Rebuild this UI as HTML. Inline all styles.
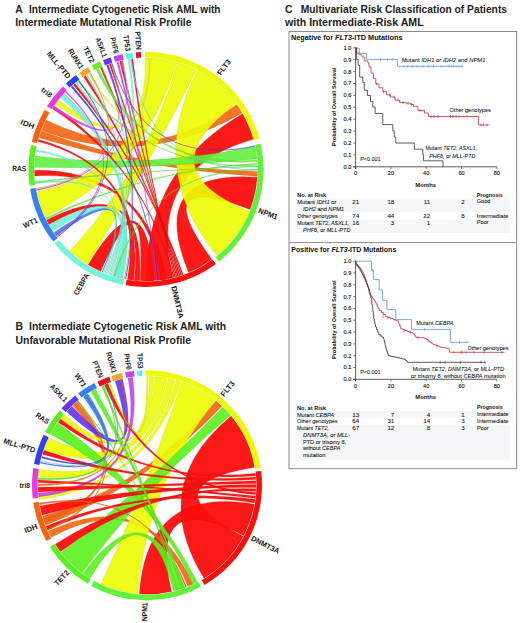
<!DOCTYPE html>
<html><head><meta charset="utf-8">
<style>
html,body{margin:0;padding:0;background:#fff;width:520px;height:623px;overflow:hidden}
svg{display:block}
text{font-family:"Liberation Sans",sans-serif;fill:#1a1a1a}
.tt{font-weight:bold;font-size:10.4px;fill:#222}
.lab{font-weight:bold;font-size:7.5px;fill:#1a1a1a}
.sub{font-weight:bold;font-size:7.7px;fill:#111}
.ax{font-size:5.6px;fill:#111;stroke:#111;stroke-width:0.12px}
.yl{font-weight:bold;font-size:5.6px;fill:#111}
.cl{font-size:5.8px;fill:#111;stroke:#111;stroke-width:0.06px}
.tb{font-size:6.2px;fill:#111;stroke:#111;stroke-width:0.08px}
.tbb{font-weight:bold;font-size:6.2px;fill:#111}
</style></head>
<body>
<svg width="520" height="623" viewBox="0 0 520 623">
<rect width="520" height="623" fill="#fff"/>
<text x="15.2" y="12.6" class="tt">A</text>
<text x="29" y="12.6" class="tt" textLength="191.5" lengthAdjust="spacingAndGlyphs">Intermediate Cytogenetic Risk AML with</text>
<text x="15.2" y="26.3" class="tt" textLength="176.3" lengthAdjust="spacingAndGlyphs">Intermediate Mutational Risk Profile</text>
<text x="15.5" y="330.2" class="tt">B</text>
<text x="29" y="330.2" class="tt" textLength="197" lengthAdjust="spacingAndGlyphs">Intermediate Cytogenetic Risk AML with</text>
<text x="15.5" y="343.8" class="tt" textLength="175.5" lengthAdjust="spacingAndGlyphs">Unfavorable Mutational Risk Profile</text>
<path d="M211.85,259.48A111.5,111.5 0 0 1 188.67,272.51Q146.00,169.50 257.23,177.28A111.5,111.5 0 0 1 250.09,209.46Q146.00,169.50 211.85,259.48Z" fill="#fc0e0c" fill-opacity="0.95" stroke="#c40a09" stroke-opacity="0.55" stroke-width="0.45"/>
<path d="M242.56,113.75A111.5,111.5 0 0 1 253.34,139.33Q146.00,169.50 172.97,277.69A111.5,111.5 0 0 1 146.00,281.00Q146.00,169.50 242.56,113.75Z" fill="#fc0e0c" fill-opacity="0.95" stroke="#c40a09" stroke-opacity="0.55" stroke-width="0.45"/>
<path d="M153.78,280.73A111.5,111.5 0 0 1 140.16,280.85Q146.00,169.50 100.65,271.36A111.5,111.5 0 0 1 88.07,264.77Q146.00,169.50 153.78,280.73Z" fill="#fc0e0c" fill-opacity="0.95" stroke="#c40a09" stroke-opacity="0.55" stroke-width="0.45"/>
<path d="M166.32,279.13A111.5,111.5 0 0 1 161.13,279.97Q146.00,169.50 34.68,175.92A111.5,111.5 0 0 1 34.50,170.28Q146.00,169.50 166.32,279.13Z" fill="#fc0e0c" fill-opacity="0.95" stroke="#c40a09" stroke-opacity="0.55" stroke-width="0.45"/>
<path d="M139.58,280.82A111.5,111.5 0 0 1 134.35,280.39Q146.00,169.50 48.96,224.41A111.5,111.5 0 0 1 46.65,220.12Q146.00,169.50 139.58,280.82Z" fill="#fc0e0c" fill-opacity="0.95" stroke="#c40a09" stroke-opacity="0.55" stroke-width="0.45"/>
<path d="M236.77,104.75A111.5,111.5 0 0 1 242.07,112.91Q146.00,169.50 41.56,130.45A111.5,111.5 0 0 1 46.04,120.10Q146.00,169.50 236.77,104.75Z" fill="#f46410" fill-opacity="0.9" stroke="#be4e0c" stroke-opacity="0.55" stroke-width="0.45"/>
<path d="M257.48,171.45A111.5,111.5 0 0 1 257.29,176.31Q146.00,169.50 39.09,137.83A111.5,111.5 0 0 1 41.36,131.00Q146.00,169.50 257.48,171.45Z" fill="#f46410" fill-opacity="0.9" stroke="#be4e0c" stroke-opacity="0.55" stroke-width="0.45"/>
<path d="M145.61,58.00A111.5,111.5 0 0 1 150.47,58.09Q146.00,169.50 55.79,103.96A111.5,111.5 0 0 1 58.74,100.09Q146.00,169.50 145.61,58.00Z" fill="#ecfc00" fill-opacity="0.9" stroke="#b8c400" stroke-opacity="0.55" stroke-width="0.45"/>
<path d="M150.86,58.11A111.5,111.5 0 0 1 176.73,62.32Q146.00,169.50 45.11,216.97A111.5,111.5 0 0 1 36.74,191.73Q146.00,169.50 150.86,58.11Z" fill="#ecfc00" fill-opacity="0.9" stroke="#b8c400" stroke-opacity="0.55" stroke-width="0.45"/>
<path d="M177.67,62.59A111.5,111.5 0 0 1 196.62,70.15Q146.00,169.50 87.58,264.47A111.5,111.5 0 0 1 69.96,251.05Q146.00,169.50 177.67,62.59Z" fill="#ecfc00" fill-opacity="0.9" stroke="#b8c400" stroke-opacity="0.55" stroke-width="0.45"/>
<path d="M197.48,70.60A111.5,111.5 0 0 1 236.21,103.96Q146.00,169.50 249.38,211.27A111.5,111.5 0 0 1 216.92,255.54Q146.00,169.50 197.48,70.60Z" fill="#ecfc00" fill-opacity="0.9" stroke="#b8c400" stroke-opacity="0.55" stroke-width="0.45"/>
<path d="M255.06,146.32A111.5,111.5 0 0 1 256.99,158.81Q146.00,169.50 34.52,167.36A111.5,111.5 0 0 1 35.31,156.10Q146.00,169.50 255.06,146.32Z" fill="#62f03c" fill-opacity="0.9" stroke="#4cbb2e" stroke-opacity="0.55" stroke-width="0.45"/>
<path d="M122.82,278.56A111.5,111.5 0 0 1 112.47,275.84Q146.00,169.50 53.02,231.04A111.5,111.5 0 0 1 49.24,224.91Q146.00,169.50 122.82,278.56Z" fill="#74f2da" fill-opacity="0.9" stroke="#5abcaa" stroke-opacity="0.55" stroke-width="0.45"/>
<path d="M60.59,97.83A111.5,111.5 0 0 1 64.45,93.46Q146.00,169.50 120.92,278.14A111.5,111.5 0 0 1 117.14,277.20Q146.00,169.50 60.59,97.83Z" fill="#74f2da" fill-opacity="0.9" stroke="#5abcaa" stroke-opacity="0.55" stroke-width="0.45"/>
<path d="M133.76,280.33A111.5,111.5 0 0 1 127.41,279.44Q146.00,169.50 38.10,141.39A111.5,111.5 0 0 1 38.61,139.52Q146.00,169.50 133.76,280.33Z" fill="#fc0e0c" fill-opacity="0.95" stroke="#c40a09" stroke-opacity="0.55" stroke-width="0.35"/>
<path d="M183.22,274.60A111.5,111.5 0 0 1 182.12,274.99Q146.00,169.50 73.29,84.97A111.5,111.5 0 0 1 75.08,83.46Q146.00,169.50 183.22,274.60Z" fill="#fc0e0c" fill-opacity="0.95" stroke="#c40a09" stroke-opacity="0.55" stroke-width="0.35"/>
<path d="M181.75,275.11A111.5,111.5 0 0 1 180.64,275.48Q146.00,169.50 83.65,77.06A111.5,111.5 0 0 1 85.60,75.78Q146.00,169.50 181.75,275.11Z" fill="#fc0e0c" fill-opacity="0.95" stroke="#c40a09" stroke-opacity="0.55" stroke-width="0.35"/>
<path d="M180.27,275.60A111.5,111.5 0 0 1 179.16,275.96Q146.00,169.50 100.29,67.80A111.5,111.5 0 0 1 102.08,67.02Q146.00,169.50 180.27,275.60Z" fill="#fc0e0c" fill-opacity="0.95" stroke="#c40a09" stroke-opacity="0.55" stroke-width="0.35"/>
<path d="M178.79,276.07A111.5,111.5 0 0 1 177.67,276.41Q146.00,169.50 109.33,64.20A111.5,111.5 0 0 1 110.81,63.70Q146.00,169.50 178.79,276.07Z" fill="#fc0e0c" fill-opacity="0.95" stroke="#c40a09" stroke-opacity="0.55" stroke-width="0.35"/>
<path d="M177.29,276.52A111.5,111.5 0 0 1 176.17,276.84Q146.00,169.50 119.59,61.17A111.5,111.5 0 0 1 121.30,60.77Q146.00,169.50 177.29,276.52Z" fill="#fc0e0c" fill-opacity="0.95" stroke="#c40a09" stroke-opacity="0.55" stroke-width="0.35"/>
<path d="M175.80,276.94A111.5,111.5 0 0 1 174.67,277.25Q146.00,169.50 131.06,59.01A111.5,111.5 0 0 1 132.80,58.78Q146.00,169.50 175.80,276.94Z" fill="#fc0e0c" fill-opacity="0.95" stroke="#c40a09" stroke-opacity="0.55" stroke-width="0.35"/>
<path d="M174.29,277.35A111.5,111.5 0 0 1 173.35,277.59Q146.00,169.50 52.49,108.77A111.5,111.5 0 0 1 54.11,106.35Q146.00,169.50 174.29,277.35Z" fill="#fc0e0c" fill-opacity="0.95" stroke="#c40a09" stroke-opacity="0.55" stroke-width="0.35"/>
<path d="M257.09,159.90A111.5,111.5 0 0 1 257.23,161.79Q146.00,169.50 96.08,69.80A111.5,111.5 0 0 1 98.70,68.53Q146.00,169.50 257.09,159.90Z" fill="#62f03c" fill-opacity="0.9" stroke="#4cbb2e" stroke-opacity="0.55" stroke-width="0.35"/>
<path d="M257.32,163.23A111.5,111.5 0 0 1 257.39,164.49Q146.00,169.50 46.28,219.38A111.5,111.5 0 0 1 45.55,217.90Q146.00,169.50 257.32,163.23Z" fill="#62f03c" fill-opacity="0.9" stroke="#4cbb2e" stroke-opacity="0.55" stroke-width="0.35"/>
<path d="M257.43,165.62A111.5,111.5 0 0 1 257.46,166.38Q146.00,169.50 77.93,81.19A111.5,111.5 0 0 1 78.94,80.42Q146.00,169.50 257.43,165.62Z" fill="#62f03c" fill-opacity="0.9" stroke="#4cbb2e" stroke-opacity="0.55" stroke-width="0.35"/>
<path d="M257.45,166.29A111.5,111.5 0 0 1 257.46,166.67Q146.00,169.50 35.29,182.75A111.5,111.5 0 0 1 35.15,181.49Q146.00,169.50 257.45,166.29Z" fill="#62f03c" fill-opacity="0.9" stroke="#4cbb2e" stroke-opacity="0.55" stroke-width="0.35"/>
<path d="M257.50,169.19A111.5,111.5 0 0 1 257.50,170.20Q146.00,169.50 114.94,276.59A111.5,111.5 0 0 1 113.73,276.23Q146.00,169.50 257.50,169.19Z" fill="#62f03c" fill-opacity="0.9" stroke="#4cbb2e" stroke-opacity="0.55" stroke-width="0.35"/>
<path d="M111.75,275.61A111.5,111.5 0 0 1 111.15,275.41Q146.00,169.50 75.85,82.84A111.5,111.5 0 0 1 77.03,81.89Q146.00,169.50 111.75,275.61Z" fill="#74f2da" fill-opacity="0.9" stroke="#5abcaa" stroke-opacity="0.55" stroke-width="0.35"/>
<path d="M110.46,275.18A111.5,111.5 0 0 1 109.86,274.98Q146.00,169.50 86.38,75.28A111.5,111.5 0 0 1 87.45,74.61Q146.00,169.50 110.46,275.18Z" fill="#74f2da" fill-opacity="0.9" stroke="#5abcaa" stroke-opacity="0.55" stroke-width="0.35"/>
<path d="M109.17,274.74A111.5,111.5 0 0 1 108.57,274.53Q146.00,169.50 122.13,60.58A111.5,111.5 0 0 1 123.12,60.37Q146.00,169.50 109.17,274.74Z" fill="#74f2da" fill-opacity="0.9" stroke="#5abcaa" stroke-opacity="0.55" stroke-width="0.35"/>
<path d="M107.89,274.28A111.5,111.5 0 0 1 107.29,274.07Q146.00,169.50 111.37,63.51A111.5,111.5 0 0 1 112.09,63.28Q146.00,169.50 107.89,274.28Z" fill="#74f2da" fill-opacity="0.9" stroke="#5abcaa" stroke-opacity="0.55" stroke-width="0.35"/>
<path d="M106.61,273.81A111.5,111.5 0 0 1 106.02,273.59Q146.00,169.50 128.03,59.46A111.5,111.5 0 0 1 129.66,59.20Q146.00,169.50 106.61,273.81Z" fill="#74f2da" fill-opacity="0.9" stroke="#5abcaa" stroke-opacity="0.55" stroke-width="0.35"/>
<path d="M105.34,273.32A111.5,111.5 0 0 1 104.75,273.09Q146.00,169.50 35.95,151.55A111.5,111.5 0 0 1 36.28,149.68Q146.00,169.50 105.34,273.32Z" fill="#74f2da" fill-opacity="0.9" stroke="#5abcaa" stroke-opacity="0.55" stroke-width="0.35"/>
<path d="M104.07,272.82A111.5,111.5 0 0 1 103.49,272.58Q146.00,169.50 35.41,183.72A111.5,111.5 0 0 1 35.26,182.46Q146.00,169.50 104.07,272.82Z" fill="#74f2da" fill-opacity="0.9" stroke="#5abcaa" stroke-opacity="0.55" stroke-width="0.35"/>
<path d="M56.30,235.73A111.5,111.5 0 0 1 53.96,232.43Q146.00,169.50 102.60,272.21A111.5,111.5 0 0 1 101.91,271.91Q146.00,169.50 56.30,235.73Z" fill="#3a80f0" fill-opacity="0.9" stroke="#2d63bb" stroke-opacity="0.55" stroke-width="0.35"/>
<path d="M71.05,86.95A111.5,111.5 0 0 1 72.46,85.69Q146.00,169.50 158.45,280.30A111.5,111.5 0 0 1 157.82,280.37Q146.00,169.50 71.05,86.95Z" fill="#3040e8" fill-opacity="0.9" stroke="#2531b4" stroke-opacity="0.55" stroke-width="0.35"/>
<path d="M88.59,73.92A111.5,111.5 0 0 1 89.90,73.14Q146.00,169.50 149.89,58.07A111.5,111.5 0 0 1 149.89,58.07Q146.00,169.50 88.59,73.92Z" fill="#ecfc00" fill-opacity="0.9" stroke="#b8c400" stroke-opacity="0.55" stroke-width="0.35"/>
<path d="M106.52,65.22A111.5,111.5 0 0 1 108.30,64.57Q146.00,169.50 126.05,279.20A111.5,111.5 0 0 1 125.31,279.06Q146.00,169.50 106.52,65.22Z" fill="#6434f0" fill-opacity="0.9" stroke="#4e28bb" stroke-opacity="0.55" stroke-width="0.35"/>
<path d="M116.70,61.92A111.5,111.5 0 0 1 118.53,61.44Q146.00,169.50 156.90,280.47A111.5,111.5 0 0 1 156.28,280.53Q146.00,169.50 116.70,61.92Z" fill="#c444ea" fill-opacity="0.9" stroke="#9835b6" stroke-opacity="0.55" stroke-width="0.35"/>
<path d="M52.86,108.20A111.5,111.5 0 0 1 54.28,106.11Q146.00,169.50 107.86,64.72A111.5,111.5 0 0 1 107.86,64.72Q146.00,169.50 52.86,108.20Z" fill="#ea38e4" fill-opacity="0.9" stroke="#b62bb1" stroke-opacity="0.55" stroke-width="0.35"/>
<path d="M130.37,59.10A111.5,111.5 0 0 1 131.37,58.96Q146.00,169.50 257.50,169.48A111.5,111.5 0 0 1 257.50,170.11Q146.00,169.50 130.37,59.10Z" fill="#62eaf4" fill-opacity="0.9" stroke="#4cb6be" stroke-opacity="0.55" stroke-width="0.35"/>
<path d="M121.72,60.68A111.5,111.5 0 0 1 122.58,60.49Q146.00,169.50 36.50,190.51A111.5,111.5 0 0 1 36.31,189.51Q146.00,169.50 121.72,60.68Z" fill="#c444ea" fill-opacity="0.9" stroke="#9835b6" stroke-opacity="0.55" stroke-width="0.35"/>
<path d="M111.52,63.46A111.5,111.5 0 0 1 112.12,63.27Q146.00,169.50 254.93,145.69A111.5,111.5 0 0 1 255.04,146.18Q146.00,169.50 111.52,63.46Z" fill="#6434f0" fill-opacity="0.9" stroke="#4e28bb" stroke-opacity="0.55" stroke-width="0.35"/>
<path d="M89.78,73.21A111.5,111.5 0 0 1 90.55,72.77Q146.00,169.50 36.20,188.89A111.5,111.5 0 0 1 36.09,188.26Q146.00,169.50 89.78,73.21Z" fill="#f4a626" fill-opacity="0.9" stroke="#be811d" stroke-opacity="0.55" stroke-width="0.35"/>
<path d="M65.49,92.36A111.5,111.5 0 0 1 66.37,91.45Q146.00,169.50 56.56,236.07A111.5,111.5 0 0 1 55.96,235.26Q146.00,169.50 65.49,92.36Z" fill="#ea38e4" fill-opacity="0.9" stroke="#b62bb1" stroke-opacity="0.55" stroke-width="0.35"/>
<path d="M78.44,80.80A111.5,111.5 0 0 1 79.05,80.34Q146.00,169.50 57.44,237.24A111.5,111.5 0 0 1 57.05,236.74Q146.00,169.50 78.44,80.80Z" fill="#3040e8" fill-opacity="0.9" stroke="#2531b4" stroke-opacity="0.55" stroke-width="0.35"/>
<path d="M101.52,67.26A111.5,111.5 0 0 1 102.10,67.01Q146.00,169.50 124.62,278.93A111.5,111.5 0 0 1 124.25,278.86Q146.00,169.50 101.52,67.26Z" fill="#6cee22" fill-opacity="0.9" stroke="#54b91a" stroke-opacity="0.55" stroke-width="0.35"/>
<path d="M144.97,52.00A117.5,117.5 0 0 1 259.39,138.69L254.08,140.13A112.0,112.0 0 0 0 145.02,57.50Z" fill="#ecfc00"/>
<path d="M260.58,143.47A117.5,117.5 0 0 1 219.15,261.46L215.72,257.15A112.0,112.0 0 0 0 255.22,144.69Z" fill="#62f03c"/>
<path d="M215.89,263.95A117.5,117.5 0 0 1 125.60,285.21L126.55,279.80A112.0,112.0 0 0 0 212.62,259.53Z" fill="#fc0e0c"/>
<path d="M123.18,284.76A117.5,117.5 0 0 1 54.69,243.45L58.96,239.98A112.0,112.0 0 0 0 124.25,279.37Z" fill="#74f2da"/>
<path d="M53.16,241.52A117.5,117.5 0 0 1 30.11,188.89L35.54,187.99A112.0,112.0 0 0 0 57.50,238.15Z" fill="#3a80f0"/>
<path d="M29.64,185.85A117.5,117.5 0 0 1 31.07,145.07L36.45,146.21A112.0,112.0 0 0 0 35.09,185.09Z" fill="#5af01e"/>
<path d="M31.75,142.07A117.5,117.5 0 0 1 44.76,109.86L49.50,112.66A112.0,112.0 0 0 0 37.09,143.35Z" fill="#f46410"/>
<path d="M46.90,106.37A117.5,117.5 0 0 1 62.91,86.41L66.80,90.30A112.0,112.0 0 0 0 51.54,109.32Z" fill="#ea38e4"/>
<path d="M65.87,83.57A117.5,117.5 0 0 1 76.11,75.05L79.38,79.47A112.0,112.0 0 0 0 69.62,87.59Z" fill="#3040e8"/>
<path d="M79.45,72.67A117.5,117.5 0 0 1 88.14,67.23L90.85,72.02A112.0,112.0 0 0 0 82.56,77.20Z" fill="#f4a626"/>
<path d="M91.74,65.28A117.5,117.5 0 0 1 100.09,61.34L102.24,66.40A112.0,112.0 0 0 0 94.28,70.15Z" fill="#6cee22"/>
<path d="M102.94,60.18A117.5,117.5 0 0 1 110.67,57.44L112.32,62.68A112.0,112.0 0 0 0 104.95,65.29Z" fill="#6434f0"/>
<path d="M113.61,56.55A117.5,117.5 0 0 1 122.57,54.36L123.67,59.75A112.0,112.0 0 0 0 115.13,61.84Z" fill="#c444ea"/>
<path d="M125.60,53.79A117.5,117.5 0 0 1 132.70,52.76L133.32,58.22A112.0,112.0 0 0 0 126.55,59.20Z" fill="#62eaf4"/>
<path d="M135.76,52.45A117.5,117.5 0 0 1 140.87,52.11L141.11,57.61A112.0,112.0 0 0 0 136.24,57.93Z" fill="#e4101a"/>
<text x="218.76" y="74.33" transform="rotate(-52.60 218.76 74.33)" text-anchor="start" dominant-baseline="central" class="lab" textLength="17.6" lengthAdjust="spacingAndGlyphs">FLT3</text>
<text x="258.58" y="210.47" transform="rotate(20.00 258.58 210.47)" text-anchor="start" dominant-baseline="central" class="lab" textLength="20.1" lengthAdjust="spacingAndGlyphs">NPM1</text>
<text x="173.56" y="286.09" transform="rotate(76.70 173.56 286.09)" text-anchor="start" dominant-baseline="central" class="lab" textLength="33.2" lengthAdjust="spacingAndGlyphs">DNMT3A</text>
<text x="87.19" y="273.87" transform="rotate(299.40 87.19 273.87)" text-anchor="end" dominant-baseline="central" class="lab" textLength="23.7" lengthAdjust="spacingAndGlyphs">CEBPA</text>
<text x="37.25" y="219.75" transform="rotate(335.20 37.25 219.75)" text-anchor="end" dominant-baseline="central" class="lab" textLength="15.2" lengthAdjust="spacingAndGlyphs">WT1</text>
<text x="26.20" y="168.66" transform="rotate(360.40 26.20 168.66)" text-anchor="end" dominant-baseline="central" class="lab" textLength="13.9" lengthAdjust="spacingAndGlyphs">RAS</text>
<text x="34.08" y="126.76" transform="rotate(380.90 34.08 126.76)" text-anchor="end" dominant-baseline="central" class="lab" textLength="14" lengthAdjust="spacingAndGlyphs">IDH</text>
<text x="51.34" y="96.07" transform="rotate(397.80 51.34 96.07)" text-anchor="end" dominant-baseline="central" class="lab" textLength="11.7" lengthAdjust="spacingAndGlyphs">tri8</text>
<text x="69.15" y="77.59" transform="rotate(410.10 69.15 77.59)" text-anchor="end" dominant-baseline="central" class="lab" textLength="32.8" lengthAdjust="spacingAndGlyphs">MLL-PTD</text>
<text x="81.81" y="68.35" transform="rotate(417.60 81.81 68.35)" text-anchor="end" dominant-baseline="central" class="lab" textLength="22.5" lengthAdjust="spacingAndGlyphs">RUNX1</text>
<text x="92.55" y="62.29" transform="rotate(423.50 92.55 62.29)" text-anchor="end" dominant-baseline="central" class="lab" textLength="17" lengthAdjust="spacingAndGlyphs">TET2</text>
<text x="104.83" y="57.00" transform="rotate(429.90 104.83 57.00)" text-anchor="end" dominant-baseline="central" class="lab" textLength="20.7" lengthAdjust="spacingAndGlyphs">ASXL1</text>
<text x="116.41" y="53.41" transform="rotate(435.70 116.41 53.41)" text-anchor="end" dominant-baseline="central" class="lab" textLength="16.5" lengthAdjust="spacingAndGlyphs">PHF6</text>
<text x="128.09" y="51.05" transform="rotate(441.40 128.09 51.05)" text-anchor="end" dominant-baseline="central" class="lab" textLength="16" lengthAdjust="spacingAndGlyphs">TP53</text>
<text x="138.69" y="49.92" transform="rotate(446.50 138.69 49.92)" text-anchor="end" dominant-baseline="central" class="lab" textLength="18.6" lengthAdjust="spacingAndGlyphs">PTEN</text>
<path d="M243.24,536.47A109.0,109.0 0 0 1 203.95,578.24Q147.00,485.30 231.11,415.97A109.0,109.0 0 0 1 254.51,467.31Q147.00,485.30 243.24,536.47Z" fill="#fc0e0c" fill-opacity="0.95" stroke="#c40a09" stroke-opacity="0.55" stroke-width="0.45"/>
<path d="M254.34,504.23A109.0,109.0 0 0 1 243.68,535.63Q147.00,485.30 171.52,591.51A109.0,109.0 0 0 1 139.40,594.03Q147.00,485.30 254.34,504.23Z" fill="#fc0e0c" fill-opacity="0.95" stroke="#c40a09" stroke-opacity="0.55" stroke-width="0.45"/>
<path d="M216.04,400.95A109.0,109.0 0 0 1 222.03,406.23Q147.00,485.30 45.58,525.25A109.0,109.0 0 0 1 42.49,516.26Q147.00,485.30 216.04,400.95Z" fill="#f46410" fill-opacity="0.9" stroke="#be4e0c" stroke-opacity="0.55" stroke-width="0.45"/>
<path d="M51.21,537.31A109.0,109.0 0 0 1 48.21,531.37Q147.00,485.30 193.07,584.09A109.0,109.0 0 0 1 187.83,586.36Q147.00,485.30 51.21,537.31Z" fill="#f46410" fill-opacity="0.9" stroke="#be4e0c" stroke-opacity="0.55" stroke-width="0.45"/>
<path d="M72.66,405.58A109.0,109.0 0 0 1 76.94,401.80Q147.00,485.30 44.57,522.58A109.0,109.0 0 0 1 43.33,518.98Q147.00,485.30 72.66,405.58Z" fill="#f46410" fill-opacity="0.9" stroke="#be4e0c" stroke-opacity="0.55" stroke-width="0.45"/>
<path d="M149.66,376.33A109.0,109.0 0 0 1 153.84,376.52Q147.00,485.30 60.87,418.49A109.0,109.0 0 0 1 63.87,414.80Q147.00,485.30 149.66,376.33Z" fill="#ecfc00" fill-opacity="0.9" stroke="#b8c400" stroke-opacity="0.55" stroke-width="0.45"/>
<path d="M154.98,376.59A109.0,109.0 0 0 1 167.05,378.16Q147.00,485.30 43.94,449.81A109.0,109.0 0 0 1 48.87,437.86Q147.00,485.30 154.98,376.59Z" fill="#ecfc00" fill-opacity="0.9" stroke="#b8c400" stroke-opacity="0.55" stroke-width="0.45"/>
<path d="M168.17,378.38A109.0,109.0 0 0 1 174.84,379.92Q147.00,485.30 38.34,476.75A109.0,109.0 0 0 1 39.14,469.57Q147.00,485.30 168.17,378.38Z" fill="#ecfc00" fill-opacity="0.9" stroke="#b8c400" stroke-opacity="0.55" stroke-width="0.45"/>
<path d="M175.95,380.21A109.0,109.0 0 0 1 180.86,381.69Q147.00,485.30 38.93,499.53A109.0,109.0 0 0 1 38.50,495.75Q147.00,485.30 175.95,380.21Z" fill="#ecfc00" fill-opacity="0.9" stroke="#b8c400" stroke-opacity="0.55" stroke-width="0.45"/>
<path d="M181.77,381.99A109.0,109.0 0 0 1 215.45,400.47Q147.00,485.30 137.50,593.89A109.0,109.0 0 0 1 100.93,584.09Q147.00,485.30 181.77,381.99Z" fill="#ecfc00" fill-opacity="0.9" stroke="#b8c400" stroke-opacity="0.55" stroke-width="0.45"/>
<path d="M222.72,406.89A109.0,109.0 0 0 1 230.50,415.24Q147.00,485.30 82.16,572.92A109.0,109.0 0 0 1 61.11,552.41Q147.00,485.30 222.72,406.89Z" fill="#5af01e" fill-opacity="0.9" stroke="#46bb17" stroke-opacity="0.55" stroke-width="0.45"/>
<path d="M90.05,578.24A109.0,109.0 0 0 1 82.93,573.48Q147.00,485.30 184.28,587.73A109.0,109.0 0 0 1 173.37,591.06Q147.00,485.30 90.05,578.24Z" fill="#5af01e" fill-opacity="0.9" stroke="#46bb17" stroke-opacity="0.55" stroke-width="0.45"/>
<path d="M50.76,434.13A109.0,109.0 0 0 1 57.71,422.78Q147.00,485.30 197.33,581.98A109.0,109.0 0 0 1 193.07,584.09Q147.00,485.30 50.76,434.13Z" fill="#5af01e" fill-opacity="0.9" stroke="#46bb17" stroke-opacity="0.55" stroke-width="0.45"/>
<path d="M38.60,496.69A109.0,109.0 0 0 1 38.27,492.90Q147.00,485.30 128.07,377.96A109.0,109.0 0 0 1 132.77,377.23Q147.00,485.30 38.60,496.69Z" fill="#c444ea" fill-opacity="0.9" stroke="#9835b6" stroke-opacity="0.55" stroke-width="0.45"/>
<path d="M66.64,411.66A109.0,109.0 0 0 1 71.97,406.23Q147.00,485.30 115.13,381.06A109.0,109.0 0 0 1 122.48,379.09Q147.00,485.30 66.64,411.66Z" fill="#6434f0" fill-opacity="0.9" stroke="#4e28bb" stroke-opacity="0.55" stroke-width="0.45"/>
<path d="M255.32,473.15A109.0,109.0 0 0 1 255.59,475.80Q147.00,485.30 58.04,422.31A109.0,109.0 0 0 1 60.52,418.95Q147.00,485.30 255.32,473.15Z" fill="#fc0e0c" fill-opacity="0.95" stroke="#c40a09" stroke-opacity="0.55" stroke-width="0.35"/>
<path d="M255.68,476.94A109.0,109.0 0 0 1 255.85,479.60Q147.00,485.30 42.49,454.34A109.0,109.0 0 0 1 43.75,450.35Q147.00,485.30 255.68,476.94Z" fill="#fc0e0c" fill-opacity="0.95" stroke="#c40a09" stroke-opacity="0.55" stroke-width="0.35"/>
<path d="M255.90,480.74A109.0,109.0 0 0 1 255.98,483.40Q147.00,485.30 38.20,491.95A109.0,109.0 0 0 1 38.02,487.20Q147.00,485.30 255.90,480.74Z" fill="#fc0e0c" fill-opacity="0.95" stroke="#c40a09" stroke-opacity="0.55" stroke-width="0.35"/>
<path d="M256.00,484.54A109.0,109.0 0 0 1 255.98,487.58Q147.00,485.30 42.22,515.34A109.0,109.0 0 0 1 40.00,506.10Q147.00,485.30 256.00,484.54Z" fill="#fc0e0c" fill-opacity="0.95" stroke="#c40a09" stroke-opacity="0.55" stroke-width="0.35"/>
<path d="M255.95,488.72A109.0,109.0 0 0 1 255.83,491.38Q147.00,485.30 60.52,551.65A109.0,109.0 0 0 1 55.28,544.19Q147.00,485.30 255.95,488.72Z" fill="#fc0e0c" fill-opacity="0.95" stroke="#c40a09" stroke-opacity="0.55" stroke-width="0.35"/>
<path d="M255.76,492.52A109.0,109.0 0 0 1 255.59,494.80Q147.00,485.30 104.41,384.96A109.0,109.0 0 0 1 107.94,383.54Q147.00,485.30 255.76,492.52Z" fill="#fc0e0c" fill-opacity="0.95" stroke="#c40a09" stroke-opacity="0.55" stroke-width="0.35"/>
<path d="M255.48,495.94A109.0,109.0 0 0 1 255.23,498.21Q147.00,485.30 38.04,482.45A109.0,109.0 0 0 1 38.13,479.98Q147.00,485.30 255.48,495.94Z" fill="#fc0e0c" fill-opacity="0.95" stroke="#c40a09" stroke-opacity="0.55" stroke-width="0.35"/>
<path d="M255.09,499.34A109.0,109.0 0 0 1 254.57,502.91Q147.00,485.30 47.42,529.63A109.0,109.0 0 0 1 45.94,526.13Q147.00,485.30 255.09,499.34Z" fill="#fc0e0c" fill-opacity="0.95" stroke="#c40a09" stroke-opacity="0.55" stroke-width="0.35"/>
<path d="M146.67,376.30A109.0,109.0 0 0 1 148.28,376.31Q147.00,485.30 108.85,383.20A109.0,109.0 0 0 1 110.24,382.69Q147.00,485.30 146.67,376.30Z" fill="#ecfc00" fill-opacity="0.9" stroke="#b8c400" stroke-opacity="0.55" stroke-width="0.35"/>
<path d="M39.74,504.67A109.0,109.0 0 0 1 39.42,502.84Q147.00,485.30 186.64,586.84A109.0,109.0 0 0 1 185.48,587.28Q147.00,485.30 39.74,504.67Z" fill="#f46410" fill-opacity="0.9" stroke="#be4e0c" stroke-opacity="0.55" stroke-width="0.35"/>
<path d="M47.81,530.48A109.0,109.0 0 0 1 47.20,529.13Q147.00,485.30 77.19,401.59A109.0,109.0 0 0 1 78.15,400.80Q147.00,485.30 47.81,530.48Z" fill="#f46410" fill-opacity="0.9" stroke="#be4e0c" stroke-opacity="0.55" stroke-width="0.35"/>
<path d="M184.70,587.57A109.0,109.0 0 0 1 182.96,588.20Q147.00,485.30 91.19,391.67A109.0,109.0 0 0 1 95.49,389.24Q147.00,485.30 184.70,587.57Z" fill="#5af01e" fill-opacity="0.9" stroke="#46bb17" stroke-opacity="0.55" stroke-width="0.35"/>
<path d="M41.45,458.11A109.0,109.0 0 0 1 41.89,456.44Q147.00,485.30 84.89,395.73A109.0,109.0 0 0 1 86.42,394.68Q147.00,485.30 41.45,458.11Z" fill="#3040e8" fill-opacity="0.9" stroke="#2531b4" stroke-opacity="0.55" stroke-width="0.35"/>
<path d="M40.26,463.24A109.0,109.0 0 0 1 40.51,462.03Q147.00,485.30 106.32,384.17A109.0,109.0 0 0 1 106.90,383.95Q147.00,485.30 40.26,463.24Z" fill="#3a80f0" fill-opacity="0.9" stroke="#2d63bb" stroke-opacity="0.55" stroke-width="0.35"/>
<path d="M38.00,485.75A109.0,109.0 0 0 1 38.01,483.90Q147.00,485.30 120.82,379.49A109.0,109.0 0 0 1 121.55,379.31Q147.00,485.30 38.00,485.75Z" fill="#f46410" fill-opacity="0.9" stroke="#be4e0c" stroke-opacity="0.55" stroke-width="0.35"/>
<path d="M38.15,479.51A109.0,109.0 0 0 1 38.26,477.78Q147.00,485.30 102.91,385.62A109.0,109.0 0 0 1 103.82,385.22Q147.00,485.30 38.15,479.51Z" fill="#5af01e" fill-opacity="0.9" stroke="#46bb17" stroke-opacity="0.55" stroke-width="0.35"/>
<path d="M77.58,401.27A109.0,109.0 0 0 1 78.34,400.64Q147.00,485.30 182.30,588.43A109.0,109.0 0 0 1 181.60,588.66Q147.00,485.30 77.58,401.27Z" fill="#5af01e" fill-opacity="0.9" stroke="#46bb17" stroke-opacity="0.55" stroke-width="0.35"/>
<path d="M83.37,396.80A109.0,109.0 0 0 1 87.97,393.67Q147.00,485.30 40.79,460.78A109.0,109.0 0 0 1 40.79,460.78Q147.00,485.30 83.37,396.80Z" fill="#3a80f0" fill-opacity="0.9" stroke="#2d63bb" stroke-opacity="0.55" stroke-width="0.35"/>
<path d="M101.39,386.30A109.0,109.0 0 0 1 103.08,385.54Q147.00,485.30 177.73,589.88A109.0,109.0 0 0 1 176.90,590.12Q147.00,485.30 101.39,386.30Z" fill="#5af01e" fill-opacity="0.9" stroke="#46bb17" stroke-opacity="0.55" stroke-width="0.35"/>
<path d="M145.60,370.31A115.0,115.0 0 0 1 260.74,468.30L255.30,469.11A109.5,109.5 0 0 0 145.66,375.81Z" fill="#ecfc00"/>
<path d="M261.09,470.89A115.0,115.0 0 0 1 204.50,584.89L201.75,580.13A109.5,109.5 0 0 0 255.64,471.58Z" fill="#fc0e0c"/>
<path d="M200.99,586.84A115.0,115.0 0 0 1 91.25,585.88L93.91,581.07A109.5,109.5 0 0 0 198.41,581.98Z" fill="#62f03c"/>
<path d="M87.77,583.87A115.0,115.0 0 0 1 49.90,546.92L54.55,543.97A109.5,109.5 0 0 0 90.60,579.16Z" fill="#5af01e"/>
<path d="M46.42,541.05A115.0,115.0 0 0 1 33.32,502.69L38.76,501.86A109.5,109.5 0 0 0 51.23,538.39Z" fill="#f46410"/>
<path d="M32.76,498.52A115.0,115.0 0 0 1 33.29,468.10L38.73,468.93A109.5,109.5 0 0 0 38.23,497.89Z" fill="#ea38e4"/>
<path d="M34.00,463.95A115.0,115.0 0 0 1 43.73,434.71L48.67,437.13A109.5,109.5 0 0 0 39.40,464.97Z" fill="#3040e8"/>
<path d="M45.09,432.02A115.0,115.0 0 0 1 59.68,410.46L63.86,414.04A109.5,109.5 0 0 0 49.96,434.57Z" fill="#5af01e"/>
<path d="M61.54,408.35A115.0,115.0 0 0 1 75.25,395.43L78.69,399.72A109.5,109.5 0 0 0 65.63,412.03Z" fill="#6434f0"/>
<path d="M78.11,393.22A115.0,115.0 0 0 1 94.43,383.02L96.95,387.91A109.5,109.5 0 0 0 81.41,397.62Z" fill="#3a80f0"/>
<path d="M97.49,381.50A115.0,115.0 0 0 1 109.18,376.70L110.99,381.89A109.5,109.5 0 0 0 99.86,386.47Z" fill="#e4101a"/>
<path d="M111.46,375.93A115.0,115.0 0 0 1 122.11,373.03L123.30,378.40A109.5,109.5 0 0 0 113.16,381.16Z" fill="#f4a626"/>
<path d="M125.06,372.41A115.0,115.0 0 0 1 133.98,371.04L134.60,376.50A109.5,109.5 0 0 0 126.11,377.81Z" fill="#c444ea"/>
<path d="M136.98,370.74A115.0,115.0 0 0 1 142.18,370.40L142.41,375.90A109.5,109.5 0 0 0 137.46,376.22Z" fill="#62eaf4"/>
<text x="222.05" y="395.54" transform="rotate(-50.10 222.05 395.54)" text-anchor="start" dominant-baseline="central" class="lab" textLength="17.4" lengthAdjust="spacingAndGlyphs">FLT3</text>
<text x="251.52" y="537.87" transform="rotate(26.70 251.52 537.87)" text-anchor="start" dominant-baseline="central" class="lab" textLength="30.8" lengthAdjust="spacingAndGlyphs">DNMT3A</text>
<text x="144.96" y="602.28" transform="rotate(271.00 144.96 602.28)" text-anchor="end" dominant-baseline="central" class="lab" textLength="19" lengthAdjust="spacingAndGlyphs">NPM1</text>
<text x="67.81" y="571.42" transform="rotate(312.60 67.81 571.42)" text-anchor="end" dominant-baseline="central" class="lab" textLength="17.9" lengthAdjust="spacingAndGlyphs">TET2</text>
<text x="37.34" y="526.08" transform="rotate(339.60 37.34 526.08)" text-anchor="end" dominant-baseline="central" class="lab" textLength="13.6" lengthAdjust="spacingAndGlyphs">IDH</text>
<text x="30.00" y="485.30" transform="rotate(360.00 30.00 485.30)" text-anchor="end" dominant-baseline="central" class="lab" textLength="10.4" lengthAdjust="spacingAndGlyphs">tri8</text>
<text x="35.29" y="450.51" transform="rotate(377.30 35.29 450.51)" text-anchor="end" dominant-baseline="central" class="lab" textLength="33.1" lengthAdjust="spacingAndGlyphs">MLL-PTD</text>
<text x="48.43" y="422.26" transform="rotate(392.60 48.43 422.26)" text-anchor="end" dominant-baseline="central" class="lab" textLength="14.4" lengthAdjust="spacingAndGlyphs">RAS</text>
<text x="66.02" y="400.85" transform="rotate(406.20 66.02 400.85)" text-anchor="end" dominant-baseline="central" class="lab" textLength="21.4" lengthAdjust="spacingAndGlyphs">ASXL1</text>
<text x="84.31" y="386.51" transform="rotate(417.60 84.31 386.51)" text-anchor="end" dominant-baseline="central" class="lab" textLength="14.7" lengthAdjust="spacingAndGlyphs">WT1</text>
<text x="101.28" y="377.60" transform="rotate(427.00 101.28 377.60)" text-anchor="end" dominant-baseline="central" class="lab" textLength="18" lengthAdjust="spacingAndGlyphs">PTEN</text>
<text x="114.36" y="372.95" transform="rotate(433.80 114.36 372.95)" text-anchor="end" dominant-baseline="central" class="lab" textLength="21.7" lengthAdjust="spacingAndGlyphs">RUNX1</text>
<text x="128.90" y="369.71" transform="rotate(441.10 128.90 369.71)" text-anchor="end" dominant-baseline="central" class="lab" textLength="16.4" lengthAdjust="spacingAndGlyphs">PHF6</text>
<text x="140.47" y="368.48" transform="rotate(446.80 140.47 368.48)" text-anchor="end" dominant-baseline="central" class="lab" textLength="15.4" lengthAdjust="spacingAndGlyphs">TP53</text>
<text x="285.0" y="12.8" class="tt">C</text>
<text x="300.8" y="12.8" class="tt" textLength="206.2" lengthAdjust="spacingAndGlyphs">Multivariate Risk Classification of Patients</text>
<text x="285.0" y="26.3" class="tt" textLength="138.7" lengthAdjust="spacingAndGlyphs">with Intermediate-Risk AML</text>
<rect x="289" y="31.5" width="227.7" height="437.2" fill="none" stroke="#8a8a8a" stroke-width="1"/>
<line x1="289" y1="242.6" x2="516.7" y2="242.6" stroke="#8a8a8a" stroke-width="1"/>
<rect x="296" y="198.6" width="214" height="13.2" fill="#f5f6f8"/>
<rect x="296" y="219.5" width="214" height="13.5" fill="#f5f6f8"/>
<rect x="296" y="411.2" width="214" height="6.6" fill="#f5f6f8"/>
<rect x="296" y="424.7" width="214" height="35.5" fill="#f5f6f8"/>
<text x="291" y="39.6" class="sub" textLength="111.5" lengthAdjust="spacingAndGlyphs">Negative for <tspan font-style="italic">FLT3</tspan>-ITD Mutations</text>
<line x1="355.6" y1="47.3" x2="355.6" y2="168.8" stroke="#333" stroke-width="0.8"/>
<line x1="353.1" y1="166.8" x2="496.8" y2="166.8" stroke="#333" stroke-width="0.8"/>
<line x1="353.1" y1="166.8" x2="355.6" y2="166.8" stroke="#333" stroke-width="0.6"/>
<text x="351.4" y="168.7" class="ax" text-anchor="end">0.0</text>
<line x1="353.1" y1="154.9" x2="355.6" y2="154.9" stroke="#333" stroke-width="0.6"/>
<text x="351.4" y="156.8" class="ax" text-anchor="end">0.1</text>
<line x1="353.1" y1="143.0" x2="355.6" y2="143.0" stroke="#333" stroke-width="0.6"/>
<text x="351.4" y="144.9" class="ax" text-anchor="end">0.2</text>
<line x1="353.1" y1="131.1" x2="355.6" y2="131.1" stroke="#333" stroke-width="0.6"/>
<text x="351.4" y="133.0" class="ax" text-anchor="end">0.3</text>
<line x1="353.1" y1="119.2" x2="355.6" y2="119.2" stroke="#333" stroke-width="0.6"/>
<text x="351.4" y="121.1" class="ax" text-anchor="end">0.4</text>
<line x1="353.1" y1="107.3" x2="355.6" y2="107.3" stroke="#333" stroke-width="0.6"/>
<text x="351.4" y="109.2" class="ax" text-anchor="end">0.5</text>
<line x1="353.1" y1="95.4" x2="355.6" y2="95.4" stroke="#333" stroke-width="0.6"/>
<text x="351.4" y="97.3" class="ax" text-anchor="end">0.6</text>
<line x1="353.1" y1="83.5" x2="355.6" y2="83.5" stroke="#333" stroke-width="0.6"/>
<text x="351.4" y="85.4" class="ax" text-anchor="end">0.7</text>
<line x1="353.1" y1="71.6" x2="355.6" y2="71.6" stroke="#333" stroke-width="0.6"/>
<text x="351.4" y="73.5" class="ax" text-anchor="end">0.8</text>
<line x1="353.1" y1="59.7" x2="355.6" y2="59.7" stroke="#333" stroke-width="0.6"/>
<text x="351.4" y="61.6" class="ax" text-anchor="end">0.9</text>
<line x1="353.1" y1="47.8" x2="355.6" y2="47.8" stroke="#333" stroke-width="0.6"/>
<text x="351.4" y="49.7" class="ax" text-anchor="end">1.0</text>
<line x1="355.6" y1="166.8" x2="355.6" y2="169.0" stroke="#333" stroke-width="0.6"/>
<text x="355.6" y="175.2" class="ax" text-anchor="middle">0</text>
<line x1="390.9" y1="166.8" x2="390.9" y2="169.0" stroke="#333" stroke-width="0.6"/>
<text x="390.9" y="175.2" class="ax" text-anchor="middle">20</text>
<line x1="426.2" y1="166.8" x2="426.2" y2="169.0" stroke="#333" stroke-width="0.6"/>
<text x="426.2" y="175.2" class="ax" text-anchor="middle">40</text>
<line x1="461.5" y1="166.8" x2="461.5" y2="169.0" stroke="#333" stroke-width="0.6"/>
<text x="461.5" y="175.2" class="ax" text-anchor="middle">60</text>
<line x1="496.8" y1="166.8" x2="496.8" y2="169.0" stroke="#333" stroke-width="0.6"/>
<text x="496.8" y="175.2" class="ax" text-anchor="middle">80</text>
<text x="333.6" y="106.8" transform="rotate(-90 333.6 106.8)" class="yl" text-anchor="middle" dominant-baseline="central" textLength="78.5" lengthAdjust="spacingAndGlyphs">Probability of Overall Survival</text>
<text x="425.7" y="186.6" class="yl" text-anchor="middle" textLength="20.8" lengthAdjust="spacingAndGlyphs">Months</text>
<path d="M355.6,48.2H359.4V53.5H366.6V59.4H397.4V66.3H463.3V66.3" fill="none" stroke="#5a94d2" stroke-width="0.8"/>
<line x1="380.5" y1="57.8" x2="380.5" y2="61.0" stroke="#5a94d2" stroke-width="0.5"/><line x1="387.4" y1="57.8" x2="387.4" y2="61.0" stroke="#5a94d2" stroke-width="0.5"/><line x1="392.3" y1="57.8" x2="392.3" y2="61.0" stroke="#5a94d2" stroke-width="0.5"/>
<line x1="403.7" y1="64.7" x2="403.7" y2="67.9" stroke="#5a94d2" stroke-width="0.5"/><line x1="407.5" y1="64.7" x2="407.5" y2="67.9" stroke="#5a94d2" stroke-width="0.5"/><line x1="412.3" y1="64.7" x2="412.3" y2="67.9" stroke="#5a94d2" stroke-width="0.5"/><line x1="417.1" y1="64.7" x2="417.1" y2="67.9" stroke="#5a94d2" stroke-width="0.5"/><line x1="422.9" y1="64.7" x2="422.9" y2="67.9" stroke="#5a94d2" stroke-width="0.5"/><line x1="428.7" y1="64.7" x2="428.7" y2="67.9" stroke="#5a94d2" stroke-width="0.5"/><line x1="433.5" y1="64.7" x2="433.5" y2="67.9" stroke="#5a94d2" stroke-width="0.5"/><line x1="441.2" y1="64.7" x2="441.2" y2="67.9" stroke="#5a94d2" stroke-width="0.5"/><line x1="448.8" y1="64.7" x2="448.8" y2="67.9" stroke="#5a94d2" stroke-width="0.5"/><line x1="451.2" y1="64.7" x2="451.2" y2="67.9" stroke="#5a94d2" stroke-width="0.5"/><line x1="453.7" y1="64.7" x2="453.7" y2="67.9" stroke="#5a94d2" stroke-width="0.5"/><line x1="456.2" y1="64.7" x2="456.2" y2="67.9" stroke="#5a94d2" stroke-width="0.5"/><line x1="459.0" y1="64.7" x2="459.0" y2="67.9" stroke="#5a94d2" stroke-width="0.5"/><line x1="462.3" y1="64.7" x2="462.3" y2="67.9" stroke="#5a94d2" stroke-width="0.5"/>
<path d="M355.6,48.0H356.6V53.2H359.0V54.8H362.0V57.0H364.3V61.0H368.0V63.2H369.0V67.0H371.0V73.2H373.5V78.6H375.8V84.0H379.0V87.8H382.8V91.7H386.6V94.8H390.5V97.0H395.0V100.2H399.7V102.5H405.8V103.2H410.5V104.5H413.5V106.3H418.0V110.5H424.5V113.0H428.5V116.5H478.5V125.0H489.2V125.0" fill="none" stroke="#c0323e" stroke-width="0.8"/>
<line x1="376.5" y1="82.5" x2="376.5" y2="85.5" stroke="#c0323e" stroke-width="0.6"/>
<line x1="383.5" y1="90.2" x2="383.5" y2="93.2" stroke="#c0323e" stroke-width="0.6"/>
<line x1="389.5" y1="93.3" x2="389.5" y2="96.3" stroke="#c0323e" stroke-width="0.6"/>
<line x1="394" y1="95.5" x2="394" y2="98.5" stroke="#c0323e" stroke-width="0.6"/>
<line x1="398" y1="98.7" x2="398" y2="101.7" stroke="#c0323e" stroke-width="0.6"/>
<line x1="403" y1="101.0" x2="403" y2="104.0" stroke="#c0323e" stroke-width="0.6"/>
<line x1="408" y1="101.7" x2="408" y2="104.7" stroke="#c0323e" stroke-width="0.6"/>
<line x1="411.5" y1="103.0" x2="411.5" y2="106.0" stroke="#c0323e" stroke-width="0.6"/>
<line x1="420" y1="109.0" x2="420" y2="112.0" stroke="#c0323e" stroke-width="0.6"/>
<line x1="431" y1="115.0" x2="431" y2="118.0" stroke="#c0323e" stroke-width="0.6"/>
<line x1="434" y1="115.0" x2="434" y2="118.0" stroke="#c0323e" stroke-width="0.6"/>
<line x1="438" y1="115.0" x2="438" y2="118.0" stroke="#c0323e" stroke-width="0.6"/>
<line x1="450.5" y1="115.0" x2="450.5" y2="118.0" stroke="#c0323e" stroke-width="0.6"/>
<line x1="453" y1="115.0" x2="453" y2="118.0" stroke="#c0323e" stroke-width="0.6"/>
<line x1="456" y1="115.0" x2="456" y2="118.0" stroke="#c0323e" stroke-width="0.6"/>
<line x1="459" y1="115.0" x2="459" y2="118.0" stroke="#c0323e" stroke-width="0.6"/>
<line x1="467" y1="115.0" x2="467" y2="118.0" stroke="#c0323e" stroke-width="0.6"/>
<line x1="481" y1="123.5" x2="481" y2="126.5" stroke="#c0323e" stroke-width="0.6"/>
<line x1="483.5" y1="123.5" x2="483.5" y2="126.5" stroke="#c0323e" stroke-width="0.6"/>
<line x1="487" y1="123.5" x2="487" y2="126.5" stroke="#c0323e" stroke-width="0.6"/>
<path d="M355.6,48.0H356.6V59.4H358.2V65.5H359.7V77.0H362.8V82.5H364.3V90.2H367.4V95.5H370.5V101.7H372.8V107.0H375.1V113.5H382.8V124.6H392.8V130.8H394.3V137.0H395.8V143.0H414.3V149.2H422.8V154.6H423.5V160.8H443.0V166.8" fill="none" stroke="#333333" stroke-width="0.8"/>
<text x="401.7" y="62.0" class="cl" textLength="83.7" lengthAdjust="spacingAndGlyphs">Mutant <tspan font-style="italic">IDH1</tspan> or <tspan font-style="italic">IDH2</tspan> and <tspan font-style="italic">NPM1</tspan></text>
<text x="449.5" y="112.3" class="cl" textLength="41.3" lengthAdjust="spacingAndGlyphs">Other genotypes</text>
<text x="425.4" y="150.3" class="cl" textLength="51.6" lengthAdjust="spacingAndGlyphs">Mutant <tspan font-style="italic">TET2, ASXL1,</tspan></text>
<text x="429.2" y="157.7" class="cl" textLength="46.2" lengthAdjust="spacingAndGlyphs"><tspan font-style="italic">PHF6,</tspan> or <tspan font-style="italic">MLL-PTD</tspan></text>
<text x="360.2" y="161.4" class="cl" textLength="20.3" lengthAdjust="spacingAndGlyphs">P&lt;0.001</text>
<text x="297.3" y="197.0" class="tbb" textLength="28.9" lengthAdjust="spacingAndGlyphs">No. at Risk</text>
<text x="476.8" y="197.0" class="tbb" textLength="25.9" lengthAdjust="spacingAndGlyphs">Prognosis</text>
<text x="297.3" y="203.8" class="tb" textLength="39.2" lengthAdjust="spacingAndGlyphs">Mutant <tspan font-style="italic">IDH1</tspan> or</text>
<text x="359.2" y="203.8" class="tb" text-anchor="end">21</text>
<text x="394.3" y="203.8" class="tb" text-anchor="end">18</text>
<text x="430.2" y="203.8" class="tb" text-anchor="end">11</text>
<text x="464.8" y="203.8" class="tb" text-anchor="end">2</text>
<text x="476.8" y="203.3" class="tb" textLength="13.5" lengthAdjust="spacingAndGlyphs">Good</text>
<text x="303.0" y="210.8" class="tb" textLength="41.0" lengthAdjust="spacingAndGlyphs"><tspan font-style="italic">IDH2</tspan> and <tspan font-style="italic">NPM1</tspan></text>
<text x="297.3" y="218.2" class="tb" textLength="40.4" lengthAdjust="spacingAndGlyphs">Other genotypes</text>
<text x="359.2" y="218.2" class="tb" text-anchor="end">74</text>
<text x="394.3" y="218.2" class="tb" text-anchor="end">44</text>
<text x="430.2" y="218.2" class="tb" text-anchor="end">22</text>
<text x="464.8" y="218.2" class="tb" text-anchor="end">8</text>
<text x="476.8" y="217.7" class="tb" textLength="31.6" lengthAdjust="spacingAndGlyphs">Intermediate</text>
<text x="297.3" y="224.6" class="tb" textLength="51.9" lengthAdjust="spacingAndGlyphs">Mutant <tspan font-style="italic">TET2, ASXL1,</tspan></text>
<text x="359.2" y="224.6" class="tb" text-anchor="end">16</text>
<text x="394.3" y="224.6" class="tb" text-anchor="end">3</text>
<text x="430.2" y="224.6" class="tb" text-anchor="end">1</text>
<text x="476.8" y="224.1" class="tb" textLength="11.8" lengthAdjust="spacingAndGlyphs">Poor</text>
<text x="303.0" y="231.5" class="tb" textLength="47.4" lengthAdjust="spacingAndGlyphs"><tspan font-style="italic">PHF6,</tspan> or <tspan font-style="italic">MLL-PTD</tspan></text>
<text x="291.3" y="251.5" class="sub" textLength="105" lengthAdjust="spacingAndGlyphs">Positive for <tspan font-style="italic">FLT3</tspan>-ITD Mutations</text>
<line x1="355.6" y1="260.7" x2="355.6" y2="381.3" stroke="#333" stroke-width="0.8"/>
<line x1="353.1" y1="379.3" x2="496.8" y2="379.3" stroke="#333" stroke-width="0.8"/>
<line x1="353.1" y1="379.3" x2="355.6" y2="379.3" stroke="#333" stroke-width="0.6"/>
<text x="351.4" y="381.2" class="ax" text-anchor="end">0.0</text>
<line x1="353.1" y1="367.5" x2="355.6" y2="367.5" stroke="#333" stroke-width="0.6"/>
<text x="351.4" y="369.4" class="ax" text-anchor="end">0.1</text>
<line x1="353.1" y1="355.7" x2="355.6" y2="355.7" stroke="#333" stroke-width="0.6"/>
<text x="351.4" y="357.6" class="ax" text-anchor="end">0.2</text>
<line x1="353.1" y1="343.9" x2="355.6" y2="343.9" stroke="#333" stroke-width="0.6"/>
<text x="351.4" y="345.8" class="ax" text-anchor="end">0.3</text>
<line x1="353.1" y1="332.1" x2="355.6" y2="332.1" stroke="#333" stroke-width="0.6"/>
<text x="351.4" y="334.0" class="ax" text-anchor="end">0.4</text>
<line x1="353.1" y1="320.2" x2="355.6" y2="320.2" stroke="#333" stroke-width="0.6"/>
<text x="351.4" y="322.1" class="ax" text-anchor="end">0.5</text>
<line x1="353.1" y1="308.4" x2="355.6" y2="308.4" stroke="#333" stroke-width="0.6"/>
<text x="351.4" y="310.3" class="ax" text-anchor="end">0.6</text>
<line x1="353.1" y1="296.6" x2="355.6" y2="296.6" stroke="#333" stroke-width="0.6"/>
<text x="351.4" y="298.5" class="ax" text-anchor="end">0.7</text>
<line x1="353.1" y1="284.8" x2="355.6" y2="284.8" stroke="#333" stroke-width="0.6"/>
<text x="351.4" y="286.7" class="ax" text-anchor="end">0.8</text>
<line x1="353.1" y1="273.0" x2="355.6" y2="273.0" stroke="#333" stroke-width="0.6"/>
<text x="351.4" y="274.9" class="ax" text-anchor="end">0.9</text>
<line x1="353.1" y1="261.2" x2="355.6" y2="261.2" stroke="#333" stroke-width="0.6"/>
<text x="351.4" y="263.1" class="ax" text-anchor="end">1.0</text>
<line x1="355.6" y1="379.3" x2="355.6" y2="381.5" stroke="#333" stroke-width="0.6"/>
<text x="355.6" y="387.7" class="ax" text-anchor="middle">0</text>
<line x1="390.9" y1="379.3" x2="390.9" y2="381.5" stroke="#333" stroke-width="0.6"/>
<text x="390.9" y="387.7" class="ax" text-anchor="middle">20</text>
<line x1="426.2" y1="379.3" x2="426.2" y2="381.5" stroke="#333" stroke-width="0.6"/>
<text x="426.2" y="387.7" class="ax" text-anchor="middle">40</text>
<line x1="461.5" y1="379.3" x2="461.5" y2="381.5" stroke="#333" stroke-width="0.6"/>
<text x="461.5" y="387.7" class="ax" text-anchor="middle">60</text>
<line x1="496.8" y1="379.3" x2="496.8" y2="381.5" stroke="#333" stroke-width="0.6"/>
<text x="496.8" y="387.7" class="ax" text-anchor="middle">80</text>
<text x="333.6" y="319.8" transform="rotate(-90 333.6 319.8)" class="yl" text-anchor="middle" dominant-baseline="central" textLength="78.5" lengthAdjust="spacingAndGlyphs">Probability of Overall Survival</text>
<text x="425.7" y="399.1" class="yl" text-anchor="middle" textLength="20.8" lengthAdjust="spacingAndGlyphs">Months</text>
<path d="M355.6,261.2H371.5V270.4H373.4V279.6H379.2V290.0H382.6V300.4H386.9V309.6H395.8V319.6H411.5V329.4H450.4V342.3H469.0V342.3" fill="none" stroke="#5a94d2" stroke-width="0.8"/>
<line x1="372.4" y1="268.8" x2="372.4" y2="272.0" stroke="#5a94d2" stroke-width="0.5"/><line x1="424.6" y1="327.8" x2="424.6" y2="331.0" stroke="#5a94d2" stroke-width="0.5"/><line x1="459.4" y1="340.7" x2="459.4" y2="343.9" stroke="#5a94d2" stroke-width="0.5"/><line x1="466.0" y1="340.7" x2="466.0" y2="343.9" stroke="#5a94d2" stroke-width="0.5"/>
<path d="M355.6,261.2H355.8V262.5H356.0V263.7H356.2V265.0H357.2V265.8H358.2V266.5H359.2V267.3H360.2V268.9H361.3V270.4H362.3V272.0H363.3V274.5H364.4V277.1H365.4V279.6H366.2V282.2H366.9V284.7H367.7V287.3H368.5V289.9H369.2V292.4H370.0V295.0H371.0V296.3H372.0V297.5H373.0V298.8H374.1V300.6H375.1V302.4H376.2V304.2H377.2V306.3H378.2V308.3H379.2V310.4H381.3V312.4H383.3V314.5H385.4V316.5H387.9V317.5H390.5V318.6H393.0V319.6H394.6V320.1H396.1V320.7H397.7V321.2H398.7V323.7H399.8V326.3H400.8V328.8H402.9V329.6H404.9V330.4H407.0V331.2H409.0V332.0H411.0V332.7H413.0V333.5H414.0V334.8H415.0V336.2H416.0V337.5H418.7V337.6H421.3V337.8H424.0V337.9H425.2V338.6H426.5V339.3H427.7V340.0H428.7V340.9H429.6V341.8H430.6V342.7H431.6V343.3H432.5V344.0H433.5V344.6H435.4V345.2H437.3V345.9H439.2V346.5H439.9V346.8H440.5V347.2H441.2V347.5H443.7V347.8H446.3V348.2H448.8V348.5H449.1V349.8H449.5V351.0H449.8V352.3H504.6V352.3" fill="none" stroke="#c0323e" stroke-width="0.8"/>
<line x1="383" y1="315.0" x2="383" y2="318.0" stroke="#c0323e" stroke-width="0.6"/>
<line x1="388" y1="316.5" x2="388" y2="319.5" stroke="#c0323e" stroke-width="0.6"/>
<line x1="404" y1="329.5" x2="404" y2="332.5" stroke="#c0323e" stroke-width="0.6"/>
<line x1="410" y1="330.8" x2="410" y2="333.8" stroke="#c0323e" stroke-width="0.6"/>
<line x1="418" y1="336.1" x2="418" y2="339.1" stroke="#c0323e" stroke-width="0.6"/>
<line x1="428" y1="339.0" x2="428" y2="342.0" stroke="#c0323e" stroke-width="0.6"/>
<line x1="437" y1="344.5" x2="437" y2="347.5" stroke="#c0323e" stroke-width="0.6"/>
<line x1="454" y1="350.8" x2="454" y2="353.8" stroke="#c0323e" stroke-width="0.6"/>
<line x1="461" y1="350.8" x2="461" y2="353.8" stroke="#c0323e" stroke-width="0.6"/>
<line x1="462" y1="350.8" x2="462" y2="353.8" stroke="#c0323e" stroke-width="0.6"/>
<line x1="466" y1="350.8" x2="466" y2="353.8" stroke="#c0323e" stroke-width="0.6"/>
<line x1="474" y1="350.8" x2="474" y2="353.8" stroke="#c0323e" stroke-width="0.6"/>
<line x1="484" y1="350.8" x2="484" y2="353.8" stroke="#c0323e" stroke-width="0.6"/>
<line x1="502" y1="350.8" x2="502" y2="353.8" stroke="#c0323e" stroke-width="0.6"/>
<path d="M355.6,261.2H355.8V262.2H356.0V263.2H356.2V264.2H357.2V265.7H358.2V267.3H359.2V268.8H360.2V270.9H361.3V272.9H362.3V275.0H363.3V277.1H364.4V279.1H365.4V281.2H366.4V283.7H367.5V286.3H368.5V288.8H369.3V291.9H370.0V294.9H370.8V298.0H371.3V301.1H371.8V304.2H372.3V307.3H372.8V311.2H373.3V315.1H373.8V319.0H374.4V321.7H374.9V324.3H375.5V327.0H376.6V329.5H377.6V332.1H378.7V334.6H380.3V335.9H381.9V337.2H383.5V338.5H384.0V340.7H384.5V342.8H385.0V345.0H385.4V346.7H385.9V348.3H386.3V350.0H387.0V351.9H387.6V353.9H388.3V355.8H391.2V356.4H394.1V357.1H397.0V357.7H399.5V358.3H402.1V359.0H404.6V359.6H405.6V360.5H406.5V361.4H407.5V362.3H485.4V362.3" fill="none" stroke="#333333" stroke-width="0.8"/>
<line x1="440.2" y1="360.7" x2="440.2" y2="363.9" stroke="#333333" stroke-width="0.5"/><line x1="445.0" y1="360.7" x2="445.0" y2="363.9" stroke="#333333" stroke-width="0.5"/><line x1="460.4" y1="360.7" x2="460.4" y2="363.9" stroke="#333333" stroke-width="0.5"/><line x1="481.0" y1="360.7" x2="481.0" y2="363.9" stroke="#333333" stroke-width="0.5"/><line x1="485.0" y1="360.7" x2="485.0" y2="363.9" stroke="#333333" stroke-width="0.5"/>
<text x="416.2" y="325.4" class="cl" textLength="37.3" lengthAdjust="spacingAndGlyphs">Mutant <tspan font-style="italic">CEBPA</tspan></text>
<text x="467.4" y="349.6" class="cl" textLength="41.1" lengthAdjust="spacingAndGlyphs">Other genotypes</text>
<text x="412.7" y="371.0" class="cl" textLength="91.6" lengthAdjust="spacingAndGlyphs">Mutant <tspan font-style="italic">TET2, DNMT3A,</tspan> or <tspan font-style="italic">MLL-PTD</tspan></text>
<text x="411.0" y="377.8" class="cl" textLength="94.7" lengthAdjust="spacingAndGlyphs">or trisomy 8, without <tspan font-style="italic">CEBPA</tspan> mutation</text>
<text x="360.2" y="374.1" class="cl" textLength="20.3" lengthAdjust="spacingAndGlyphs">P&lt;0.001</text>
<text x="297.0" y="409.7" class="tbb" textLength="29.0" lengthAdjust="spacingAndGlyphs">No. at Risk</text>
<text x="476.9" y="409.3" class="tbb" textLength="25.9" lengthAdjust="spacingAndGlyphs">Prognosis</text>
<text x="297.0" y="416.5" class="tb" textLength="36.9" lengthAdjust="spacingAndGlyphs">Mutant <tspan font-style="italic">CEBPA</tspan></text>
<text x="359.2" y="416.5" class="tb" text-anchor="end">13</text>
<text x="394.3" y="416.5" class="tb" text-anchor="end">7</text>
<text x="430.2" y="416.5" class="tb" text-anchor="end">4</text>
<text x="464.8" y="416.5" class="tb" text-anchor="end">1</text>
<text x="476.9" y="416.2" class="tb" textLength="31.6" lengthAdjust="spacingAndGlyphs">Intermediate</text>
<text x="297.0" y="423.2" class="tb" textLength="40.6" lengthAdjust="spacingAndGlyphs">Other genotypes</text>
<text x="359.2" y="423.2" class="tb" text-anchor="end">64</text>
<text x="394.3" y="423.2" class="tb" text-anchor="end">31</text>
<text x="430.2" y="423.2" class="tb" text-anchor="end">14</text>
<text x="464.8" y="423.2" class="tb" text-anchor="end">3</text>
<text x="476.9" y="422.9" class="tb" textLength="31.6" lengthAdjust="spacingAndGlyphs">Intermediate</text>
<text x="297.0" y="430.2" class="tb" textLength="31.8" lengthAdjust="spacingAndGlyphs">Mutant <tspan font-style="italic">TET2,</tspan></text>
<text x="359.2" y="430.2" class="tb" text-anchor="end">67</text>
<text x="394.3" y="430.2" class="tb" text-anchor="end">12</text>
<text x="430.2" y="430.2" class="tb" text-anchor="end">8</text>
<text x="464.8" y="430.2" class="tb" text-anchor="end">3</text>
<text x="476.9" y="429.9" class="tb" textLength="11.8" lengthAdjust="spacingAndGlyphs">Poor</text>
<text x="303.0" y="436.9" class="tb" textLength="47.3" lengthAdjust="spacingAndGlyphs"><tspan font-style="italic">DNMT3A,</tspan> or <tspan font-style="italic">MLL-</tspan></text>
<text x="303.0" y="443.6" class="tb" textLength="43.2" lengthAdjust="spacingAndGlyphs">PTD or trisomy 8,</text>
<text x="303.0" y="450.3" class="tb" textLength="37.4" lengthAdjust="spacingAndGlyphs">without <tspan font-style="italic">CEBPA</tspan></text>
<text x="303.0" y="457.2" class="tb" textLength="22.4" lengthAdjust="spacingAndGlyphs">mutation</text>
</svg>
</body></html>
